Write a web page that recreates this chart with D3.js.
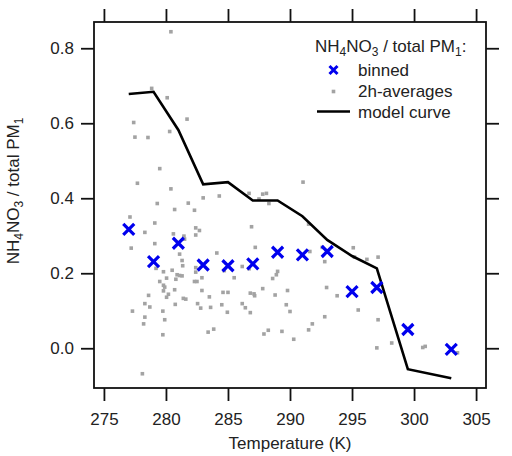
<!DOCTYPE html>
<html>
<head>
<meta charset="utf-8">
<script src="https://cdn.jsdelivr.net/npm/d3@7"></script>
<style>
  body { margin: 0; background: #fff; }
  svg text { font-family: "Liberation Sans", Arial, sans-serif; fill: #222; }
</style>
</head>
<body>
<div id="chart"></div>
<script>
// binned averages and model curve (temperature in K)
const binnedT = [277, 279, 281, 283, 285, 287, 289, 291, 293, 295, 297, 299.5, 303];
const binnedV = [0.317, 0.231, 0.28, 0.222, 0.22, 0.225, 0.256, 0.249, 0.258, 0.151, 0.162, 0.05, -0.003];
const modelT = [277, 279, 281, 283, 285, 287, 289, 291, 293, 295, 297, 299.5, 303];
const modelV = [0.678, 0.684, 0.582, 0.437, 0.443, 0.394, 0.394, 0.352, 0.289, 0.246, 0.213, -0.056, -0.08];

// 2h-averages
const avgT = [280.4, 278.85, 280.1, 281.7, 277.4, 280.3, 277.5, 278.55, 279.5, 277.7, 280.4, 283.0, 279.3, 281.8,
  291.05, 284.3, 286.7, 287.5, 287.8, 288.1, 288.3,
  280.7, 282.3, 277.1, 279.1, 278.3, 282.4, 282.7, 280.6, 282.4, 281.45, 281.5, 279.1, 277.2, 281.1, 281.3, 281.35,
  279.2, 282.4, 279.8, 280.5, 282.4, 280.9, 281.1, 281.3, 280.05, 282.9, 280.8, 279.5, 282.3, 282.5, 279.8, 279.9,
  280.7, 279.8, 282.9, 280.2, 278.6, 280.05, 281.4, 281.6, 283.5, 278.3, 280.75, 282.55, 278.7, 282.8, 283.6, 277.3,
  279.75, 278.3, 279.9, 278.2, 283.85, 283.4, 279.75, 278.1,
  286.9, 291.5, 287.2, 284.1, 291.6, 292.6, 292.8, 286.15, 284.7, 286.7, 289.0, 288.9, 285.5, 288.6, 287.8, 292.95,
  284.6, 285.0, 289.8, 286.8, 287.1, 287.15, 288.8, 284.5, 286.15, 286.4, 289.7, 284.95, 286.8, 290.0, 292.8, 291.8,
  291.5, 288.25, 287.9, 289.35, 290.3,
  295.1, 296.2, 297.1, 295.2, 293.8, 295.5, 297.1, 297.0, 298.2, 300.7, 300.9, 303.5];
const avgV = [0.844, 0.693, 0.668, 0.611, 0.602, 0.578, 0.563, 0.562, 0.479, 0.44, 0.425, 0.401, 0.386, 0.387,
  0.443, 0.406, 0.413, 0.398, 0.411, 0.413, 0.386,
  0.37, 0.368, 0.35, 0.334, 0.309, 0.321, 0.314, 0.305, 0.302, 0.299, 0.291, 0.279, 0.267, 0.251, 0.234, 0.22,
  0.213, 0.215, 0.204, 0.208, 0.203, 0.196, 0.194, 0.193, 0.187, 0.188, 0.184, 0.178, 0.178, 0.178, 0.168, 0.163,
  0.156, 0.153, 0.154, 0.144, 0.141, 0.136, 0.133, 0.131, 0.137, 0.119, 0.117, 0.119, 0.11, 0.107, 0.109, 0.099,
  0.099, 0.083, 0.076, 0.065, 0.051, 0.043, 0.036, -0.068,
  0.324, 0.331, 0.269, 0.254, 0.258, 0.269, 0.231, 0.218, 0.207, 0.212, 0.205, 0.196, 0.188, 0.186, 0.159, 0.162,
  0.149, 0.149, 0.154, 0.147, 0.145, 0.14, 0.142, 0.116, 0.119, 0.108, 0.116, 0.096, 0.095, 0.098, 0.084, 0.065,
  0.049, 0.048, 0.038, 0.045, 0.024,
  0.268, 0.237, 0.243, 0.243, 0.14, 0.102, 0.076, 0.001, 0.014, 0.002, 0.005, -0.012];

const xTicks = [275, 280, 285, 290, 295, 300, 305];
const yTicks = [0.0, 0.2, 0.4, 0.6, 0.8];
const legendLabels = ["binned", "2h-averages", "model curve"];

(function() {
    const width = 512, height = 456;
    const m = { left: 94, right: 486, top: 22, bottom: 388 };

    const svg = d3.select("#chart").append("svg")
        .attr("width", width)
        .attr("height", height);

    const x = d3.scaleLinear().domain([274.2, 305.8]).range([m.left, m.right]);
    const y = d3.scaleLinear().domain([-0.106, 0.87]).range([m.bottom, m.top]);

    const tickLen = 13;

    // axes with outward ticks on all four sides
    svg.append("g")
        .attr("transform", "translate(0," + m.bottom + ")")
        .call(d3.axisBottom(x).tickValues(xTicks).tickSize(tickLen).tickPadding(12).tickFormat(d3.format("d")))
        .call(g => g.selectAll("text").style("font-size", "17px"));

    svg.append("g")
        .attr("transform", "translate(0," + m.top + ")")
        .call(d3.axisTop(x).tickValues(xTicks).tickSize(tickLen).tickFormat(""));

    svg.append("g")
        .attr("transform", "translate(" + m.left + ",0)")
        .call(d3.axisLeft(y).tickValues(yTicks).tickSize(tickLen).tickPadding(7).tickFormat(d3.format(".1f")))
        .call(g => g.selectAll("text").style("font-size", "17px"));

    svg.append("g")
        .attr("transform", "translate(" + m.right + ",0)")
        .call(d3.axisRight(y).tickValues(yTicks).tickSize(tickLen).tickFormat(""));

    svg.selectAll(".domain").remove();
    svg.selectAll(".tick line").attr("stroke", "#111").attr("stroke-width", 1.8);
    svg.selectAll(".tick text").attr("fill", "#222").attr("font-family", null);

    svg.append("rect")
        .attr("x", m.left)
        .attr("y", m.top)
        .attr("width", m.right - m.left)
        .attr("height", m.bottom - m.top)
        .attr("fill", "none")
        .attr("stroke", "#111")
        .attr("stroke-width", 1.8);

    // 2h-averages
    const avgData = avgT.map((t, i) => ({ t: t, v: avgV[i] }));
    const sq = 3.6;
    svg.append("g")
        .selectAll("rect")
        .data(avgData)
        .join("rect")
        .attr("x", d => x(d.t) - sq / 2)
        .attr("y", d => y(d.v) - sq / 2)
        .attr("width", sq)
        .attr("height", sq)
        .attr("fill", "#a3a3a3");

    // model curve
    const modelData = modelT.map((t, i) => ({ t: t, v: modelV[i] }));
    svg.append("path")
        .datum(modelData)
        .attr("fill", "none")
        .attr("stroke", "#000")
        .attr("stroke-width", 2.6)
        .attr("d", d3.line().x(d => x(d.t)).y(d => y(d.v)));

    // binned crosses
    const crossPath = s => "M" + (-s) + "," + (-s) + "L" + s + "," + s + "M" + (-s) + "," + s + "L" + s + "," + (-s);
    const binnedData = binnedT.map((t, i) => ({ t: t, v: binnedV[i] }));
    svg.append("g")
        .selectAll("path")
        .data(binnedData)
        .join("path")
        .attr("transform", d => "translate(" + x(d.t) + "," + y(d.v) + ")")
        .attr("d", crossPath(5.5))
        .attr("stroke", "#0000ee")
        .attr("stroke-width", 3.2)
        .attr("fill", "none");

    // axis titles
    svg.append("text")
        .attr("x", (m.left + m.right) / 2)
        .attr("y", 449)
        .attr("text-anchor", "middle")
        .style("font-size", "17px")
        .text("Temperature (K)");

    // text with subscripts: parts = [[text, isSub], ...]
    function subText(sel, parts) {
        let sub = false;
        parts.forEach(p => {
            const t = sel.append("tspan").text(p[0]);
            if (p[1]) { t.attr("dy", 4).style("font-size", "12px"); sub = true; }
            else if (sub) { t.attr("dy", -4); sub = false; }
        });
    }

    const ylab = svg.append("text")
        .attr("transform", "translate(19,191) rotate(-90)")
        .attr("text-anchor", "middle")
        .style("font-size", "17px");
    subText(ylab, [["NH", false], ["4", true], ["NO", false], ["3", true], [" / total PM", false], ["1", true]]);

    // legend
    const legTitle = svg.append("text")
        .attr("x", 315)
        .attr("y", 52)
        .style("font-size", "17px");
    subText(legTitle, [["NH", false], ["4", true], ["NO", false], ["3", true], [" / total PM", false], ["1", true], [":", false]]);

    const legY = [75.5, 97, 117.5];
    svg.append("g")
        .selectAll("text")
        .data(legendLabels)
        .join("text")
        .attr("x", 358)
        .attr("y", (d, i) => legY[i])
        .style("font-size", "17px")
        .text(d => d);

    svg.append("path")
        .attr("transform", "translate(333.5," + (legY[0] - 5.5) + ")")
        .attr("d", crossPath(4))
        .attr("stroke", "#0000ee")
        .attr("stroke-width", 3)
        .attr("fill", "none");

    svg.append("rect")
        .attr("x", 333.5 - sq / 2)
        .attr("y", legY[1] - 5.5 - sq / 2)
        .attr("width", sq)
        .attr("height", sq)
        .attr("fill", "#a3a3a3");

    svg.append("line")
        .attr("x1", 317)
        .attr("x2", 350)
        .attr("y1", legY[2] - 6)
        .attr("y2", legY[2] - 6)
        .attr("stroke", "#000")
        .attr("stroke-width", 2.6);
})();
</script>
</body>
</html>
